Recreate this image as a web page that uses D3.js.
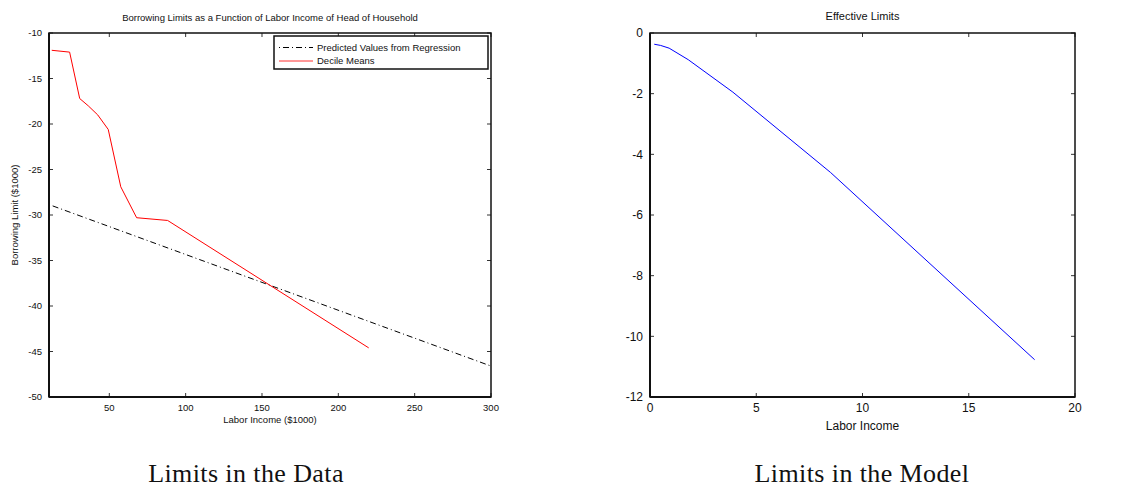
<!DOCTYPE html>
<html lang="en">
<head>
<meta charset="UTF-8">
<title>Borrowing Limits</title>
<style>
  body { margin: 0; background: #fff; }
  text { font-family: "Liberation Sans", Arial, sans-serif; fill: #111; }
  .caption { font-family: "Liberation Serif", serif; letter-spacing: 0.4px; }
</style>
</head>
<body>
<svg id="chart" width="1129" height="492"></svg>
<script src="https://d3js.org/d3.v7.min.js"></script>
<script>
// left panel: data
var decileIncome = [12.3, 24, 30.6, 36.2, 42.4, 49.3, 57.5, 67.9, 88.2, 219.9];
var decileLimit = [-11.9, -12.1, -17.2, -18.0, -19.0, -20.6, -26.9, -30.3, -30.6, -44.6];
var regIncome = [12.9, 300];
var regLimit = [-29.0, -46.6];
var leftXTicks = [50, 100, 150, 200, 250, 300];
var leftYTicks = [-10, -15, -20, -25, -30, -35, -40, -45, -50];

// right panel: model
var modelIncome = [0.2, 0.5, 0.9, 1.8, 3.9, 8.5, 18.1];
var modelLimit = [-0.37, -0.41, -0.5, -0.88, -1.95, -4.6, -10.77];
var rightXTicks = [0, 5, 10, 15, 20];
var rightYTicks = [0, -2, -4, -6, -8, -10, -12];

var svg = d3.select("#chart");

function box(g, x, y, xTicks, yTicks, labelSize) {
    var w = x.range()[1], h = y.range()[0];
    // inward ticks on all four sides
    xTicks.forEach(function (t) {
        g.append("line").attr("x1", x(t)).attr("x2", x(t)).attr("y1", h).attr("y2", h - 4)
            .attr("stroke", "#333");
        g.append("line").attr("x1", x(t)).attr("x2", x(t)).attr("y1", 0).attr("y2", 4)
            .attr("stroke", "#333");
        g.append("text").attr("x", x(t)).attr("y", h + 11).attr("text-anchor", "middle")
            .attr("dy", "0.35em").style("font-size", labelSize + "px").text(t);
    });
    yTicks.forEach(function (t) {
        g.append("line").attr("x1", 0).attr("x2", 4).attr("y1", y(t)).attr("y2", y(t))
            .attr("stroke", "#333");
        g.append("line").attr("x1", w).attr("x2", w - 4).attr("y1", y(t)).attr("y2", y(t))
            .attr("stroke", "#333");
        g.append("text").attr("x", -7).attr("y", y(t)).attr("text-anchor", "end")
            .attr("dy", "0.35em").style("font-size", labelSize + "px").text(t);
    });
    g.append("rect").attr("width", w).attr("height", h)
        .attr("fill", "none").attr("stroke", "#111").attr("stroke-width", 1.5);
    g.append("line").attr("x1", 0).attr("x2", 0).attr("y1", 0).attr("y2", h)
        .attr("stroke", "#111").attr("stroke-width", 2);
    g.append("line").attr("x1", 0).attr("x2", w).attr("y1", h).attr("y2", h)
        .attr("stroke", "#111").attr("stroke-width", 2);
}

// ---- left chart ----
var left = svg.append("g").attr("transform", "translate(49,33)");
var lw = 442, lh = 364;
var xL = d3.scaleLinear().domain([10.5, 300]).range([0, lw]);
var yL = d3.scaleLinear().domain([-50, -10]).range([lh, 0]);

var lineL = d3.line().x(function (d) { return xL(d[0]); }).y(function (d) { return yL(d[1]); });

left.append("path")
    .datum(d3.zip(regIncome, regLimit))
    .attr("d", lineL)
    .attr("fill", "none").attr("stroke", "#000").attr("stroke-width", 1)
    .attr("stroke-dasharray", "6,3,1,3");

left.append("path")
    .datum(d3.zip(decileIncome, decileLimit))
    .attr("d", lineL)
    .attr("fill", "none").attr("stroke", "#ff0000").attr("stroke-width", 1);

box(left, xL, yL, leftXTicks, leftYTicks, 9.5);

left.append("text").attr("x", lw / 2).attr("y", -12).attr("text-anchor", "middle")
    .style("font-size", "9.5px").text("Borrowing Limits as a Function of Labor Income of Head of Household");
left.append("text").attr("x", lw / 2).attr("y", lh + 26).attr("text-anchor", "middle")
    .style("font-size", "9.5px").text("Labor Income ($1000)");
left.append("text").attr("transform", "translate(-31," + (lh / 2) + ") rotate(-90)")
    .attr("text-anchor", "middle").style("font-size", "9.5px").text("Borrowing Limit ($1000)");

// legend
var leg = left.append("g").attr("transform", "translate(225,3)");
leg.append("rect").attr("width", 214).attr("height", 33)
    .attr("fill", "#fff").attr("stroke", "#111").attr("stroke-width", 1.5);
leg.append("line").attr("x1", 5).attr("x2", 39).attr("y1", 11.5).attr("y2", 11.5)
    .attr("stroke", "#000").attr("stroke-dasharray", "1,3,6,3");
leg.append("line").attr("x1", 5).attr("x2", 39).attr("y1", 25).attr("y2", 25)
    .attr("stroke", "#ff3030");
leg.append("text").attr("x", 43).attr("y", 11.5).attr("dy", "0.35em")
    .style("font-size", "9.5px").text("Predicted Values from Regression");
leg.append("text").attr("x", 43).attr("y", 25).attr("dy", "0.35em")
    .style("font-size", "9.5px").text("Decile Means");

// ---- right chart ----
var right = svg.append("g").attr("transform", "translate(650,33)");
var rw = 425, rh = 364;
var xR = d3.scaleLinear().domain([0, 20]).range([0, rw]);
var yR = d3.scaleLinear().domain([-12, 0]).range([rh, 0]);

var lineR = d3.line().x(function (d) { return xR(d[0]); }).y(function (d) { return yR(d[1]); });

right.append("path")
    .datum(d3.zip(modelIncome, modelLimit))
    .attr("d", lineR)
    .attr("fill", "none").attr("stroke", "#0000ff").attr("stroke-width", 1);

box(right, xR, yR, rightXTicks, rightYTicks, 12);

right.append("text").attr("x", rw / 2).attr("y", -13).attr("text-anchor", "middle")
    .style("font-size", "11px").text("Effective Limits");
right.append("text").attr("x", rw / 2).attr("y", rh + 33).attr("text-anchor", "middle")
    .style("font-size", "12px").text("Labor Income");

// captions
svg.append("text").attr("class", "caption").attr("x", 246).attr("y", 482)
    .attr("text-anchor", "middle").style("font-size", "26px").text("Limits in the Data");
svg.append("text").attr("class", "caption").attr("x", 862).attr("y", 482)
    .attr("text-anchor", "middle").style("font-size", "26px").text("Limits in the Model");
</script>
</body>
</html>
